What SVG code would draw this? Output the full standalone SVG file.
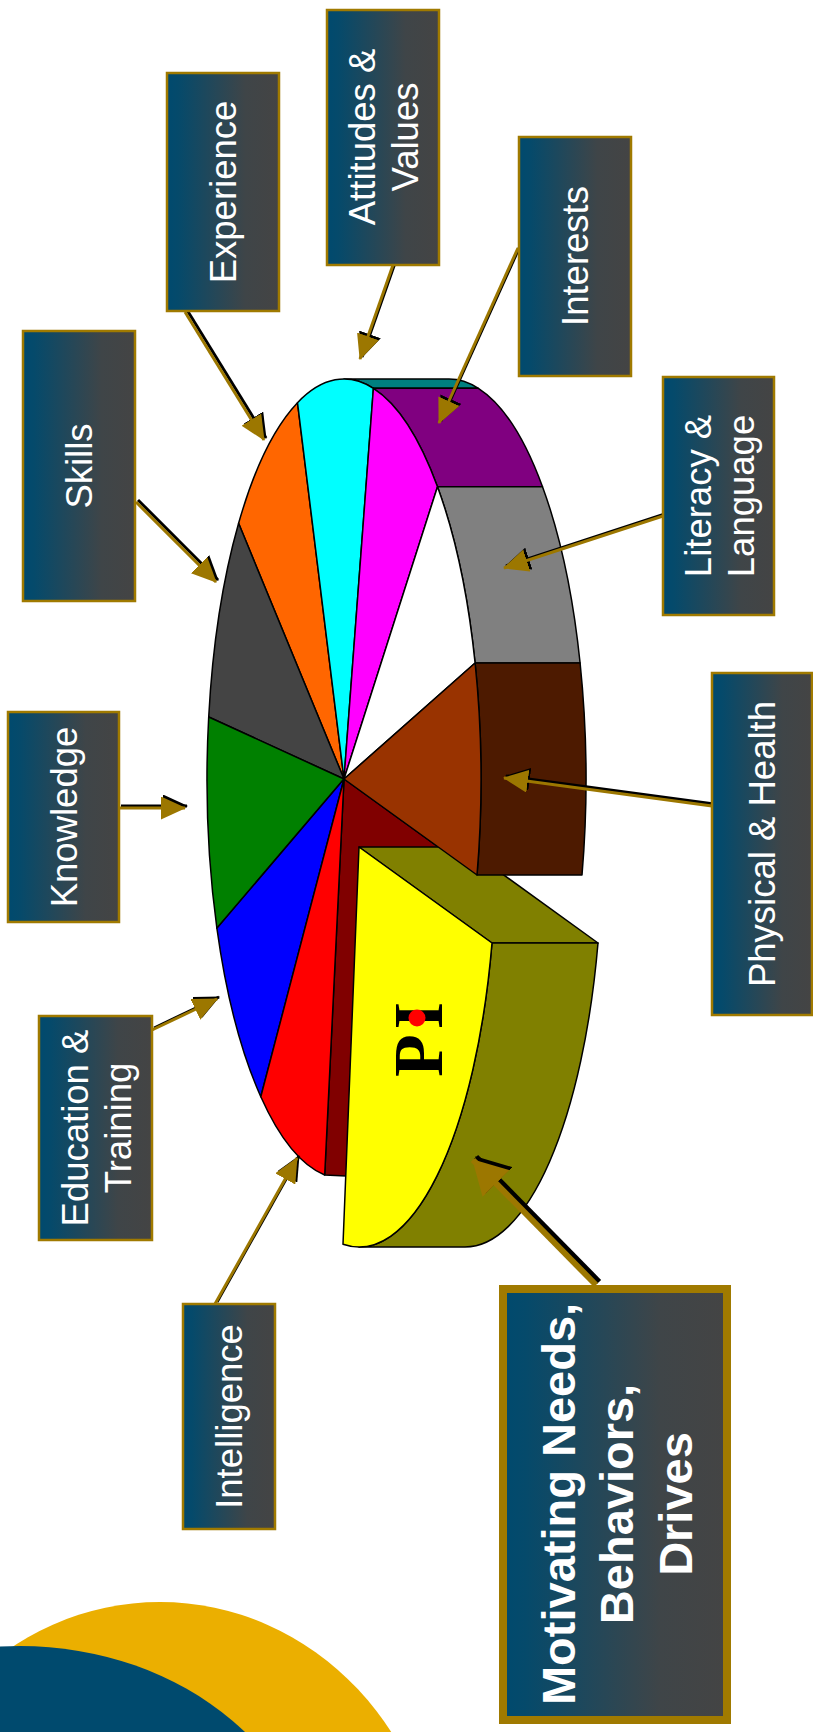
<svg xmlns="http://www.w3.org/2000/svg" width="813" height="1732" viewBox="0 0 813 1732">
<defs>
<linearGradient id="bg" x1="0" y1="0" x2="1" y2="0">
<stop offset="0" stop-color="#004A6E"/>
<stop offset="0.1" stop-color="#054A6B"/>
<stop offset="0.7" stop-color="#3F4548"/>
<stop offset="1" stop-color="#444444"/>
</linearGradient>
<marker id="ag" viewBox="0 0 25 23" refX="24" refY="11.5" markerWidth="25" markerHeight="23" orient="auto" markerUnits="userSpaceOnUse"><path d="M0,0L25,11.5L0,23Z" fill="#9C7700"/></marker>
<marker id="ak" viewBox="0 0 25 23" refX="24" refY="11.5" markerWidth="25" markerHeight="23" orient="auto" markerUnits="userSpaceOnUse"><path d="M0,0L25,11.5L0,23Z" fill="#000"/></marker>
<marker id="agb" viewBox="0 0 34 38" refX="33" refY="19" markerWidth="34" markerHeight="38" orient="auto" markerUnits="userSpaceOnUse"><path d="M0,0L34,19L0,38Z" fill="#9C7700"/></marker>
<marker id="akb" viewBox="0 0 34 38" refX="33" refY="19" markerWidth="34" markerHeight="38" orient="auto" markerUnits="userSpaceOnUse"><path d="M0,0L34,19L0,38Z" fill="#000"/></marker>
</defs>
<style>
.box{fill:url(#bg);stroke:#A07A00;stroke-width:2.5}
.lbl{font-family:"Liberation Sans",Arial,sans-serif;font-size:36.5px;fill:#fff;text-anchor:middle}
.big{font-family:"Liberation Sans",Arial,sans-serif;font-weight:bold;font-size:47px;fill:#fff;text-anchor:middle}
.ln{fill:none;stroke:#9C7700;stroke-width:3;marker-end:url(#ag)}
.sh{fill:none;stroke:#000;stroke-width:3;marker-end:url(#ak)}
.lnb{fill:none;stroke:#9C7700;stroke-width:6;marker-end:url(#agb)}
.shb{fill:none;stroke:#000;stroke-width:6;marker-end:url(#akb)}
.pc{stroke:#000;stroke-width:1.5;stroke-linejoin:round}
</style>

<g id="background">
<ellipse cx="160" cy="1900" rx="280" ry="298" fill="#EBAF00"/>
<ellipse cx="20" cy="1900" rx="300" ry="254" fill="#004A6E"/>
</g>

<g id="pie">
<path class="pc" fill="#800000" d="M344,779 L477,875 L477,1000 L346,1176 L324.7,1175 Z"/>
<path class="pc" fill="#808000" d="M359,847 L465,847 L598,943 L492,943 Z"/>
<path class="pc" fill="#008080" d="M344,379 L449,379 A137 400 0 0 1 478.4,388.3 L373.4,388.3 A137 400 0 0 0 344,379 Z"/>
<path class="pc" fill="#800080" d="M373.4,388.3 L478.4,388.3 A137 400 0 0 1 542.5,486.7 L437.5,486.7 A137 400 0 0 0 373.4,388.3 Z"/>
<path class="pc" fill="#808080" d="M437.5,486.7 L542.5,486.7 A137 400 0 0 1 580.1,663 L475.1,663 A137 400 0 0 0 437.5,486.7 Z"/>
<path class="pc" fill="#4D1A00" d="M475.1,663 L580.1,663 A137 400 0 0 1 582,875 L477,875 A137 400 0 0 0 475.1,663 Z"/>
<path class="pc" fill="#FF6600" d="M344,779 L238.6,523.3 A137 400 0 0 1 297.5,402.7 Z"/>
<path class="pc" fill="#00FFFF" d="M344,779 L297.5,402.7 A137 400 0 0 1 373.4,388.3 Z"/>
<path class="pc" fill="#FF00FF" d="M344,779 L373.4,388.3 A137 400 0 0 1 437.5,486.7 Z"/>
<path class="pc" fill="#FFFFFF" d="M344,779 L437.5,486.7 A137 400 0 0 1 475.1,663 Z"/>
<path class="pc" fill="#993300" d="M344,779 L475.1,663 A137 400 0 0 1 477,875 Z"/>
<path class="pc" fill="#444444" d="M344,779 L208.7,717 A137 400 0 0 1 238.6,523.3 Z"/>
<path class="pc" fill="#008000" d="M344,779 L216.9,928.3 A137 400 0 0 1 208.7,717 Z"/>
<path class="pc" fill="#0000FF" d="M344,779 L260.8,1096.7 A137 400 0 0 1 216.9,928.3 Z"/>
<path class="pc" fill="#FF0000" d="M344,779 L324.7,1175 A137 400 0 0 1 260.8,1096.7 Z"/>
<path class="pc" fill="#808000" d="M492,943 L598,943 A137 400 0 0 1 465,1247 L359,1247 A137 400 0 0 0 492,943 Z"/>
<path class="pc" fill="#FFFF00" d="M359,847 L492,943 A137 400 0 0 1 343,1244.3 Z"/>
<text transform="translate(442,1077) rotate(-90)" font-family="'Liberation Serif','Times New Roman',serif" font-weight="bold" font-size="70" letter-spacing="5" fill="#000">PI</text>
<circle cx="417" cy="1018" r="8.5" fill="#FF0000"/>
</g>

<g id="connectors">
<g transform="translate(2,-2)">
<path class="sh" d="M393,265 L360,359"/>
<path class="sh" d="M518,248 L439,423"/>
<path class="sh" d="M185,312 L264,440"/>
<path class="sh" d="M136,502 L216,582"/>
<path class="sh" d="M119,808 L185,808"/>
<path class="sh" d="M152,1030 L217,999"/>
<path class="sh" d="M215,1304 L297,1158"/>
<path class="sh" d="M663,516 L504,568"/>
<path class="sh" d="M712,806 L504,778"/>
</g>
<path class="shb" transform="translate(3,-3)" d="M596,1285 L473,1160"/>
<path class="ln" d="M393,265 L360,359"/>
<path class="ln" d="M518,248 L439,423"/>
<path class="ln" d="M185,312 L264,440"/>
<path class="ln" d="M136,502 L216,582"/>
<path class="ln" d="M119,808 L185,808"/>
<path class="ln" d="M152,1030 L217,999"/>
<path class="ln" d="M215,1304 L297,1158"/>
<path class="ln" d="M663,516 L504,568"/>
<path class="ln" d="M712,806 L504,778"/>
<path class="lnb" d="M596,1285 L473,1160"/>
</g>

<g id="experience">
<rect class="box" x="167" y="73" width="112" height="238"/>
<text class="lbl" transform="translate(223,192) rotate(-90)" y="13">Experience</text>
</g>
<g id="attitudes">
<rect class="box" x="327" y="10" width="112" height="255"/>
<text class="lbl" transform="translate(383,137) rotate(-90)"><tspan x="0" y="-8">Attitudes &amp;</tspan><tspan x="0" y="35">Values</tspan></text>
</g>
<g id="interests">
<rect class="box" x="519" y="137" width="112" height="239"/>
<text class="lbl" transform="translate(575,256) rotate(-90)" y="13">Interests</text>
</g>
<g id="skills">
<rect class="box" x="23" y="331" width="112" height="270"/>
<text class="lbl" transform="translate(79,466) rotate(-90)" y="13">Skills</text>
</g>
<g id="literacy">
<rect class="box" x="663" y="377" width="111" height="238"/>
<text class="lbl" transform="translate(718.5,496) rotate(-90)"><tspan x="0" y="-8">Literacy &amp;</tspan><tspan x="0" y="35">Language</tspan></text>
</g>
<g id="knowledge">
<rect class="box" x="8" y="712" width="111" height="210"/>
<text class="lbl" transform="translate(63.5,817) rotate(-90)" y="13">Knowledge</text>
</g>
<g id="physical">
<rect class="box" x="712" y="673" width="100" height="342"/>
<text class="lbl" transform="translate(762,844) rotate(-90)" y="13">Physical &amp; Health</text>
</g>
<g id="education">
<rect class="box" x="39" y="1016" width="113" height="224"/>
<text class="lbl" transform="translate(95.5,1128) rotate(-90)"><tspan x="0" y="-8">Education &amp;</tspan><tspan x="0" y="35">Training</tspan></text>
</g>
<g id="intelligence">
<rect class="box" x="183" y="1304" width="92" height="225"/>
<text class="lbl" transform="translate(229,1416.5) rotate(-90)" y="13">Intelligence</text>
</g>
<g id="motivating">
<rect x="503" y="1289" width="224" height="431" fill="url(#bg)" stroke="#A07A00" stroke-width="8"/>
<text class="big" transform="translate(615,1504) rotate(-90)"><tspan x="0" y="-40">Motivating Needs,</tspan><tspan x="0" y="18">Behaviors,</tspan><tspan x="0" y="77">Drives</tspan></text>
</g>
</svg>
